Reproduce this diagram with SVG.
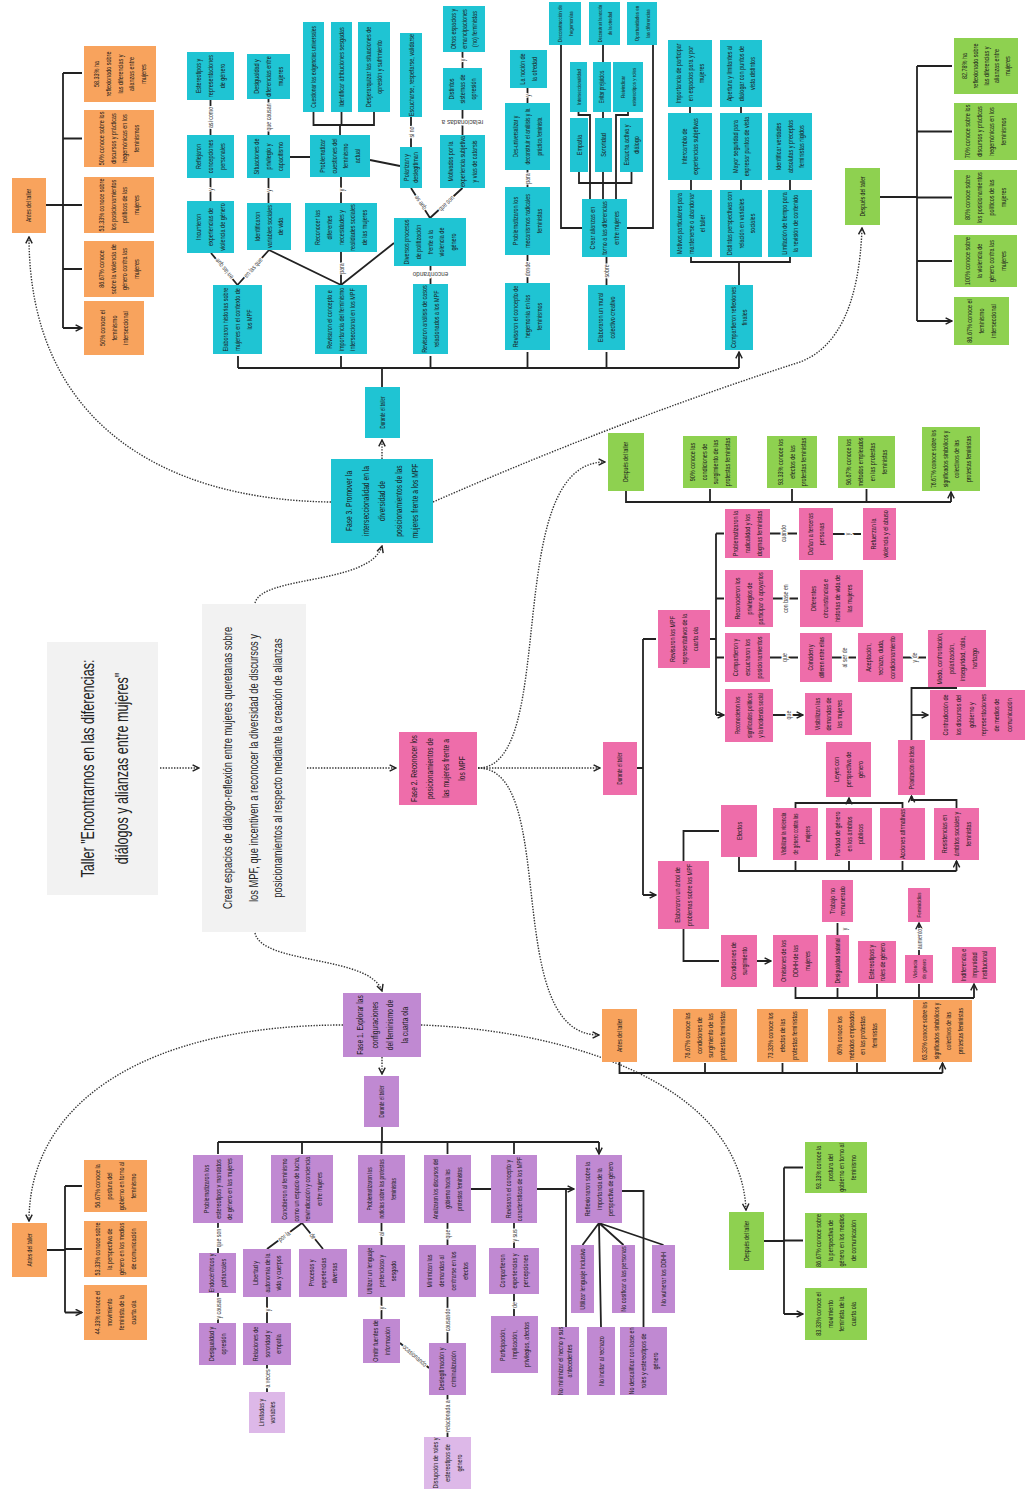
<svg xmlns="http://www.w3.org/2000/svg" width="1031" height="1491" viewBox="0 0 1031 1491">
<defs>
<style>
.cy{fill:#1FC4D3}.or{fill:#F8A35D}.gr{fill:#8ED150}.pk{fill:#EE6DAA}.pu{fill:#C089D2}.lp{fill:#DDB8E8}.gy{fill:#F2F2F2}
text{font-family:"Liberation Sans",Arial,sans-serif}
.t{font-size:7.6px;fill:#1a1a1a;text-anchor:middle}
.f{font-size:9.3px;fill:#1a1a1a;text-anchor:middle}
.l{font-size:7px;fill:#444;text-anchor:middle;stroke:#fff;stroke-width:3px;paint-order:stroke;stroke-linejoin:round}
.c{fill:none;stroke:#222;stroke-width:1.8}
.a{fill:none;stroke:#222;stroke-width:1.8;marker-end:url(#ah)}
.d{fill:none;stroke:#333;stroke-width:1.4;stroke-dasharray:1.4 1.4;marker-end:url(#ah)}
</style>
<marker id="ah" viewBox="0 0 10 10" refX="9" refY="5" markerWidth="8" markerHeight="8" markerUnits="userSpaceOnUse" orient="auto"><path d="M1,1 L9,5 L1,9" fill="none" stroke="#222" stroke-width="1.8"/></marker>
</defs>
<rect x="0" y="0" width="1031" height="1491" fill="#fff"/>

<g id="connectors">
<path class="d" d="M160,768H199"/>
<path class="d" d="M307,768H396"/>
<path class="d" d="M255,603C262,575 370,585 382,546"/>
<path class="d" d="M255,933C262,965 370,955 382,991"/>
<path class="d" d="M382,459V440"/>
<path class="d" d="M331,502C160,500 29,420 29,237"/>
<path class="d" d="M433,502Q620,420 800,362Q858,340 862,228"/>
<path class="d" d="M478,768C560,768 500,462 605,462"/>
<path class="d" d="M478,768H600"/>
<path class="d" d="M478,768C560,768 500,1035 599,1035"/>
<path class="d" d="M382,1057V1074"/>
<path class="d" d="M343,1025C150,1025 29,1100 29,1221"/>
<path class="d" d="M421,1025C560,1030 740,1080 746,1210"/>

<path class="c" d="M46,205H63M63,73V328"/>
<path class="a" d="M63,73H82M63,138.5H82M63,205H82M63,269H82M63,328H82"/>
<path class="c" d="M880,197H917M917,66V321"/>
<path class="a" d="M917,66H952M917,131.5H952M917,197.5H952M917,261H952M917,321H952"/>

<path class="c" d="M382,387V368M238,368H739"/>
<path class="a" d="M238,368V356M341,368V356M430.5,368V356M527.5,368V352M606.5,368V352M739,368V352"/>
<path class="c" d="M237.5,285L211,253M237.5,285L269,250M269,250L341,285M394,243L341,285M341,252V285"/>
<path class="c" d="M210.5,201V178M210.5,135V100M268.5,203V178M268.5,135V99M341,203V177"/>
<path class="c" d="M340,135V125M313.5,112V125H374V112M341.5,112V125"/>
<path class="c" d="M290,157H310M370,160L400,166"/>
<path class="c" d="M430.5,284V266M430,218L411,188M430,218L462.5,188M411,147V117M462.5,135V110M462.5,68V52"/>
<path class="c" d="M527.5,283V255M527.5,187V170M527.5,103V88M606.5,285V257"/>
<path class="c" d="M582,228H561V45M627,228H653V45M603,45V62M603,112V118M603,172V199"/>
<path class="c" d="M578.5,112V115H590V199M628,112V115H616V199M579,172V183H631.5V172"/>
<path class="c" d="M739,285V262M691,257V262H790V257M691,190V180M690,113V107M741,190V180M741,113V107M790,190V180"/>
<text class="l" transform="translate(224,269) rotate(-130) scale(.75,1)" y="2.5">en las que</text>
<text class="l" transform="translate(253,267.5) rotate(-48) scale(.75,1)" y="2.5">en las que</text>
<text class="l" transform="translate(210.5,189.5) rotate(-90) scale(.75,1)" y="2.5">y</text>
<text class="l" transform="translate(210.5,117.5) rotate(-90) scale(.75,1)" y="2.5">así como</text>
<text class="l" transform="translate(268.5,190.5) rotate(-90) scale(.75,1)" y="2.5">y</text>
<text class="l" transform="translate(268.5,117) rotate(-90) scale(.75,1)" y="2.5">que causan</text>
<text class="l" transform="translate(341,268.5) rotate(-90) scale(.75,1)" y="2.5">para</text>
<text class="l" transform="translate(341,190) rotate(-90) scale(.75,1)" y="2.5">y</text>
<text class="l" transform="translate(411,132) rotate(-90) scale(.75,1)" y="2.5">si no</text>
<text class="l" transform="translate(420,203) rotate(-125) scale(.75,1)" y="2.5">que se</text>
<text class="l" transform="translate(446,203) rotate(-43) scale(.75,1)" y="2.5">que son</text>
<text class="l" style="font-size:8px" transform="translate(430.5,275) rotate(180) scale(.8,1)" y="2.8">encontrando</text>
<text class="l" style="font-size:8px" transform="translate(462.5,122.5) rotate(180) scale(.8,1)" y="2.8">relacionadas a</text>
<text class="l" transform="translate(462.5,60) rotate(-90) scale(.75,1)" y="2.5">y</text>
<text class="l" transform="translate(527.5,269) rotate(-90) scale(.75,1)" y="2.5">donde</text>
<text class="l" transform="translate(527.5,178.5) rotate(-90) scale(.75,1)" y="2.5">para</text>
<text class="l" transform="translate(527.5,95.5) rotate(-90) scale(.75,1)" y="2.5">y</text>
<text class="l" transform="translate(606.5,271) rotate(-90) scale(.75,1)" y="2.5">sobre</text>

<path class="c" d="M626,491V502H951"/>
<path class="a" d="M710,502V489M792,502V489M866.5,502V489M951,502V492"/>
<path class="c" d="M637,768H643M643,639V895"/>
<path class="a" d="M643,639H656M643,895H656"/>
<path class="c" d="M710,639H716M716,533.5V715"/>
<path class="a" d="M716,533.5H724M716,598.5H724M716,657.5H724M716,715H724"/>
<path class="a" d="M770,533.5H797M833,534H861M773,598.5H798M770,657.5H798M832,657.5H856M903,657.5H926M773,715H803"/>
<text class="l" transform="translate(783.5,533.5) rotate(-90) scale(.75,1)" y="2.5">cuando</text>
<text class="l" transform="translate(847,534) rotate(-90) scale(.75,1)" y="2.5">y</text>
<text class="l" transform="translate(785.5,598.5) rotate(-90) scale(.75,1)" y="2.5">con base en</text>
<text class="l" transform="translate(784,657.5) rotate(-90) scale(.75,1)" y="2.5">que</text>
<text class="l" transform="translate(844,657.5) rotate(-90) scale(.75,1)" y="2.5">al ser de</text>
<text class="l" transform="translate(914.5,657.5) rotate(-90) scale(.75,1)" y="2.5">y de</text>
<text class="l" transform="translate(788,715) rotate(-90) scale(.75,1)" y="2.5">que</text>
<path class="c" d="M911.5,740V688H957"/>
<path class="a" d="M911.5,715H928"/>
<path class="c" d="M795.5,808V803H902.5V808"/>
<path class="a" d="M849,803V798"/>
<path class="a" d="M956.5,808V800H911.5V796"/>
<path class="c" d="M739,857V871H956.5"/>
<path class="a" d="M795.5,871V861M849,871V861M902.5,871V861M956.5,871V861"/>
<path class="a" d="M683.5,861V831H719M683.5,929V961H719M757,961H771"/>
<path class="c" d="M795.5,987V998H974"/>
<path class="a" d="M837.5,998V988M877,998V984M919,998V984M974,998V984"/>
<path class="a" d="M837.5,935V923M919,955V923"/>
<text class="l" transform="translate(844,929) rotate(-90) scale(.75,1)" y="2.5">y</text>
<text class="l" transform="translate(919,939) rotate(-90) scale(.75,1)" y="2.5">aumento</text>
<path class="c" d="M619.5,1062V1073H942.5"/>
<path class="a" d="M705,1073V1063M782.5,1073V1063M857,1073V1063M942.5,1073V1063"/>

<path class="c" d="M382,1127V1142M218,1142H599"/>
<path class="a" d="M218,1142V1154M302,1142V1154M381.5,1142V1154M447.5,1142V1154M514,1142V1154M599,1142V1154"/>
<path class="c" d="M218,1223V1253M218,1293V1323M267,1297V1323M267,1365V1392M381.5,1223V1245M381.5,1297V1319M447.5,1223V1245M447.5,1297V1343M447.5,1395V1437M514,1223V1248M514,1294V1316"/>
<path class="c" d="M302,1223L267,1249M302,1223L323,1249M400,1343L429,1368"/>
<path class="c" d="M471,1189H491M566,1189V1327M622,1191H643.5V1327"/>
<path class="a" d="M537,1189H574"/>
<path class="c" d="M599,1223L582.5,1245M599,1223L623.5,1245M599,1223L663.5,1245M599,1223L601,1327"/>
<text class="l" transform="translate(218,1238) rotate(-90) scale(.75,1)" y="2.5">que son</text>
<text class="l" transform="translate(218,1308) rotate(-90) scale(.75,1)" y="2.5">y causan</text>
<text class="l" transform="translate(284,1236) rotate(-36) scale(.75,1)" y="2.5">por la</text>
<text class="l" transform="translate(313,1236) rotate(50) scale(.75,1)" y="2.5">de</text>
<text class="l" transform="translate(267,1310) rotate(-90) scale(.75,1)" y="2.5">y</text>
<text class="l" transform="translate(267,1378.5) rotate(-90) scale(.75,1)" y="2.5">a veces</text>
<text class="l" transform="translate(381.5,1234) rotate(-90) scale(.75,1)" y="2.5">al</text>
<text class="l" transform="translate(381.5,1308) rotate(-90) scale(.75,1)" y="2.5">y</text>
<text class="l" transform="translate(447.5,1234) rotate(-90) scale(.75,1)" y="2.5">que</text>
<text class="l" transform="translate(447.5,1320) rotate(-90) scale(.75,1)" y="2.5">causando</text>
<text class="l" transform="translate(447.5,1416) rotate(-90) scale(.75,1)" y="2.5">relacionada a</text>
<text class="l" transform="translate(415,1355.5) rotate(41) scale(.75,1)" y="2.5">ocasionando</text>
<text class="l" transform="translate(514,1235.5) rotate(-90) scale(.75,1)" y="2.5">y sus</text>
<text class="l" transform="translate(514,1305) rotate(-90) scale(.75,1)" y="2.5">de</text>
<path class="c" d="M47,1250H65M65,1186V1312.5"/>
<path class="a" d="M65,1186H82M65,1249H82M65,1312.5H82"/>
<path class="c" d="M764,1241H784M784,1167.5V1314"/>
<path class="a" d="M784,1167.5H803M784,1240.5H803M784,1314H803"/>
</g>

<g id="title"><rect class="gy" x="47" y="642" width="111" height="253"/><text transform="translate(102.5,768.5) rotate(-90) scale(.72,1)" style="font-size:17.5px;fill:#222;text-anchor:middle"><tspan x="0" y="-8.4">Taller "Encontrarnos en las diferencias:</tspan><tspan x="0" y="25.6">diálogos y alianzas entre mujeres"</tspan></text></g>
<g id="objetivo"><rect class="gy" x="202" y="604" width="104" height="328"/><text transform="translate(254,768) rotate(-90) scale(.72,1)" style="font-size:13px;fill:#222;text-anchor:middle"><tspan x="0" y="-22.5">Crear espacios de diálogo-reflexión entre mujeres queretanas sobre</tspan><tspan x="0" y="3.5">los MPF, que incentiven a reconocer la diversidad de discursos y</tspan><tspan x="0" y="28.5">posicionamientos al respecto mediante la creación de alianzas</tspan></text></g>

<g id="fase3"><rect class="cy" x="331" y="459" width="102" height="84"/><text class="f" transform="translate(382,501) rotate(-90) scale(.72,1)"><tspan x="0" y="-29.8">Fase 3. Promover la</tspan><tspan x="0" y="-13.3">interseccionalidad en la</tspan><tspan x="0" y="3.2">diversidad de</tspan><tspan x="0" y="19.7">posicionamientos de las</tspan><tspan x="0" y="36.2">mujeres frente a los MPF</tspan></text></g>
<g id="f3-durante"><rect class="cy" x="365" y="387" width="35" height="51"/><text class="t" style="font-size:6.3px" transform="translate(382.5,412.5) rotate(-90) scale(.72,1)" y="2.1">Durante el taller</text></g>

<g id="a3-0"><rect class="or" x="12" y="178" width="34" height="55"/><text class="t" style="font-size:7px" transform="translate(29,205.5) rotate(-90) scale(.72,1)" y="2.3">Antes del taller</text></g>
<g id="a3-1"><rect class="or" x="84" y="46" width="72" height="56"/><text class="t" transform="translate(120,74) rotate(-90) scale(.72,1)"><tspan x="0" y="-21.5">58.33% ha</tspan><tspan x="0" y="-9.5">reflexionado sobre</tspan><tspan x="0" y="2.5">las diferencias y</tspan><tspan x="0" y="14.5">alianzas entre</tspan><tspan x="0" y="26.5">mujeres</tspan></text></g>
<g id="a3-2"><rect class="or" x="84" y="110" width="70" height="57"/><text class="t" transform="translate(119,138.5) rotate(-90) scale(.72,1)"><tspan x="0" y="-15.5">50% conoce sobre los</tspan><tspan x="0" y="-3.5">discursos y prácticas</tspan><tspan x="0" y="8.5">hegemónicas en los</tspan><tspan x="0" y="20.5">feminismos</tspan></text></g>
<g id="a3-3"><rect class="or" x="84" y="177" width="70" height="56"/><text class="t" transform="translate(119,205) rotate(-90) scale(.72,1)"><tspan x="0" y="-15.5">53.33% conoce sobre</tspan><tspan x="0" y="-3.5">los posicionamientos</tspan><tspan x="0" y="8.5">políticos de las</tspan><tspan x="0" y="20.5">mujeres</tspan></text></g>
<g id="a3-4"><rect class="or" x="84" y="241" width="70" height="56"/><text class="t" transform="translate(119,269) rotate(-90) scale(.72,1)"><tspan x="0" y="-15.5">86.67% conoce</tspan><tspan x="0" y="-3.5">sobre la violencia de</tspan><tspan x="0" y="8.5">género contra las</tspan><tspan x="0" y="20.5">mujeres</tspan></text></g>
<g id="a3-5"><rect class="or" x="84" y="301" width="60" height="54"/><text class="t" transform="translate(114,328) rotate(-90) scale(.72,1)"><tspan x="0" y="-9.5">50% conoce el</tspan><tspan x="0" y="2.5">feminismo</tspan><tspan x="0" y="14.5">interseccional</tspan></text></g>

<g id="d3-0"><rect class="gr" x="845" y="168" width="35" height="57"/><text class="t" style="font-size:7px" transform="translate(862.5,196.5) rotate(-90) scale(.72,1)" y="2.3">Después del taller</text></g>
<g id="d3-1"><rect class="gr" x="954" y="38" width="64" height="56"/><text class="t" transform="translate(986,66) rotate(-90) scale(.72,1)"><tspan x="0" y="-19.5">82.78% ha</tspan><tspan x="0" y="-8.5">reflexionado sobre</tspan><tspan x="0" y="2.5">las diferencias y</tspan><tspan x="0" y="13.5">alianzas entre</tspan><tspan x="0" y="24.5">mujeres</tspan></text></g>
<g id="d3-2"><rect class="gr" x="954" y="103" width="63" height="57"/><text class="t" transform="translate(985.5,131.5) rotate(-90) scale(.72,1)"><tspan x="0" y="-15.5">70% conoce sobre los</tspan><tspan x="0" y="-3.5">discursos y prácticas</tspan><tspan x="0" y="8.5">hegemónicas en los</tspan><tspan x="0" y="20.5">feminismos</tspan></text></g>
<g id="d3-3"><rect class="gr" x="954" y="170" width="63" height="55"/><text class="t" transform="translate(985.5,197.5) rotate(-90) scale(.72,1)"><tspan x="0" y="-15.5">80% conoce sobre</tspan><tspan x="0" y="-3.5">los posicionamientos</tspan><tspan x="0" y="8.5">políticos de las</tspan><tspan x="0" y="20.5">mujeres</tspan></text></g>
<g id="d3-4"><rect class="gr" x="954" y="235" width="63" height="52"/><text class="t" transform="translate(985.5,261) rotate(-90) scale(.72,1)"><tspan x="0" y="-15.5">100% conoce sobre</tspan><tspan x="0" y="-3.5">la violencia de</tspan><tspan x="0" y="8.5">género contra las</tspan><tspan x="0" y="20.5">mujeres</tspan></text></g>
<g id="d3-5"><rect class="gr" x="954" y="297" width="55" height="48"/><text class="t" transform="translate(981.5,321) rotate(-90) scale(.72,1)"><tspan x="0" y="-9.5">86.67% conoce el</tspan><tspan x="0" y="2.5">feminismo</tspan><tspan x="0" y="14.5">interseccional</tspan></text></g>

<g id="c1"><rect class="cy" x="213" y="285" width="49" height="69"/><text class="t" transform="translate(237.5,319.5) rotate(-90) scale(.72,1)"><tspan x="0" y="-9.5">Elaboraron historias sobre</tspan><tspan x="0" y="2.5">mujeres en el contexto de</tspan><tspan x="0" y="14.5">los MPF</tspan></text></g>
<g id="c2"><rect class="cy" x="187" y="201" width="47" height="52"/><text class="t" transform="translate(210.5,227) rotate(-90) scale(.72,1)"><tspan x="0" y="-9.5">Incurrieron</tspan><tspan x="0" y="2.5">experiencias de</tspan><tspan x="0" y="14.5">violencia de género</tspan></text></g>
<g id="c3"><rect class="cy" x="187" y="135" width="47" height="43"/><text class="t" transform="translate(210.5,156.5) rotate(-90) scale(.72,1)"><tspan x="0" y="-9.5">Reflejaron</tspan><tspan x="0" y="2.5">concepciones</tspan><tspan x="0" y="14.5">personales</tspan></text></g>
<g id="c4"><rect class="cy" x="187" y="52" width="47" height="48"/><text class="t" transform="translate(210.5,76) rotate(-90) scale(.72,1)"><tspan x="0" y="-9.5">Estereotipos y</tspan><tspan x="0" y="2.5">representaciones</tspan><tspan x="0" y="14.5">de género</tspan></text></g>
<g id="c5"><rect class="cy" x="247" y="203" width="44" height="47"/><text class="t" transform="translate(269,226.5) rotate(-90) scale(.72,1)"><tspan x="0" y="-9.5">Identificaron</tspan><tspan x="0" y="2.5">variables sociales</tspan><tspan x="0" y="14.5">de vida</tspan></text></g>
<g id="c6"><rect class="cy" x="247" y="135" width="43" height="43"/><text class="t" transform="translate(268.5,156.5) rotate(-90) scale(.72,1)"><tspan x="0" y="-9.5">Situaciones de</tspan><tspan x="0" y="2.5">privilegio y</tspan><tspan x="0" y="14.5">capacitismo</tspan></text></g>
<g id="c7"><rect class="cy" x="247" y="54" width="43" height="45"/><text class="t" transform="translate(268.5,76.5) rotate(-90) scale(.72,1)"><tspan x="0" y="-9.5">Desigualdad y</tspan><tspan x="0" y="2.5">diferencias entre</tspan><tspan x="0" y="14.5">mujeres</tspan></text></g>
<g id="c8"><rect class="cy" x="315" y="285" width="52" height="69"/><text class="t" transform="translate(341,319.5) rotate(-90) scale(.72,1)"><tspan x="0" y="-9.5">Revisaron el concepto e</tspan><tspan x="0" y="2.5">importancia del feminismo</tspan><tspan x="0" y="14.5">interseccional en los MPF</tspan></text></g>
<g id="c9"><rect class="cy" x="305" y="203" width="72" height="49"/><text class="t" transform="translate(341,227.5) rotate(-90) scale(.72,1)"><tspan x="0" y="-21.5">Reconocer las</tspan><tspan x="0" y="-9.5">diferentes</tspan><tspan x="0" y="2.5">necesidades y</tspan><tspan x="0" y="14.5">realidades sociales</tspan><tspan x="0" y="26.5">de las mujeres</tspan></text></g>
<g id="c10"><rect class="cy" x="310" y="135" width="60" height="42"/><text class="t" transform="translate(340,156) rotate(-90) scale(.72,1)"><tspan x="0" y="-15.5">Problematizar</tspan><tspan x="0" y="-3.5">cuestiones del</tspan><tspan x="0" y="8.5">feminismo</tspan><tspan x="0" y="20.5">actual</tspan></text></g>
<g id="c11"><rect class="cy" x="303" y="22" width="21" height="90"/><text class="t" style="font-size:6.8px" transform="translate(313.5,67) rotate(-90) scale(.72,1)" y="2.3">Cuestionar las exigencias universales</text></g>
<g id="c12"><rect class="cy" x="331" y="22" width="21" height="90"/><text class="t" transform="translate(341.5,67) rotate(-90) scale(.72,1)" y="2.5">Identificar atribuciones sesgadas</text></g>
<g id="c13"><rect class="cy" x="358" y="22" width="32" height="90"/><text class="t" transform="translate(374,67) rotate(-90) scale(.72,1)"><tspan x="0" y="-3.5">Desjerarquizar las situaciones de</tspan><tspan x="0" y="8.5">opresión y sufrimiento</tspan></text></g>
<g id="c14"><rect class="cy" x="413" y="284" width="35" height="70"/><text class="t" transform="translate(430.5,319) rotate(-90) scale(.72,1)"><tspan x="0" y="-3.5">Revisaron análisis de casos</tspan><tspan x="0" y="8.5">relacionados a los MPF</tspan></text></g>
<g id="c15"><rect class="cy" x="394" y="218" width="72" height="48"/><text class="t" transform="translate(430,242) rotate(-90) scale(.72,1)"><tspan x="0" y="-21.5">Diversos procesos</tspan><tspan x="0" y="-9.5">de politización</tspan><tspan x="0" y="2.5">frente a la</tspan><tspan x="0" y="14.5">violencia de</tspan><tspan x="0" y="26.5">género</tspan></text></g>
<g id="c16"><rect class="cy" x="400" y="147" width="22" height="41"/><text class="t" transform="translate(411,167.5) rotate(-90) scale(.72,1)"><tspan x="0" y="-2.5">Polarizan y</tspan><tspan x="0" y="7.5">deslegitiman</tspan></text></g>
<g id="c17"><rect class="cy" x="400" y="33" width="22" height="84"/><text class="t" transform="translate(411,75) rotate(-90) scale(.72,1)" y="2.5">Escucharse, respetarse, validarse</text></g>
<g id="c18"><rect class="cy" x="440" y="135" width="45" height="53"/><text class="t" transform="translate(462.5,161.5) rotate(-90) scale(.72,1)"><tspan x="0" y="-9.5">Motivados por la</tspan><tspan x="0" y="2.5">experiencia subjetiva</tspan><tspan x="0" y="14.5">y vías de catarsis</tspan></text></g>
<g id="c19"><rect class="cy" x="443" y="68" width="39" height="42"/><text class="t" transform="translate(462.5,89) rotate(-90) scale(.72,1)"><tspan x="0" y="-8.5">Distintos</tspan><tspan x="0" y="2.5">sistemas de</tspan><tspan x="0" y="13.5">opresión</tspan></text></g>
<g id="c20"><rect class="cy" x="443" y="6" width="42" height="46"/><text class="t" transform="translate(464,29) rotate(-90) scale(.72,1)"><tspan x="0" y="-8.5">Otros espacios y</tspan><tspan x="0" y="2.5">emancipaciones</tspan><tspan x="0" y="13.5">(no) feministas</tspan></text></g>
<g id="c21"><rect class="cy" x="505" y="283" width="45" height="67"/><text class="t" transform="translate(527.5,316.5) rotate(-90) scale(.72,1)"><tspan x="0" y="-9.5">Revisaron el concepto de</tspan><tspan x="0" y="2.5">hegemonía en los</tspan><tspan x="0" y="14.5">feminismos</tspan></text></g>
<g id="c22"><rect class="cy" x="505" y="187" width="45" height="68"/><text class="t" transform="translate(527.5,221) rotate(-90) scale(.72,1)"><tspan x="0" y="-9.5">Problematizaron los</tspan><tspan x="0" y="2.5">mecanismos radicales</tspan><tspan x="0" y="14.5">feministas</tspan></text></g>
<g id="c23"><rect class="cy" x="505" y="103" width="45" height="67"/><text class="t" style="font-size:6.8px" transform="translate(527.5,136.5) rotate(-90) scale(.72,1)"><tspan x="0" y="-9.5">Des-universalizar y</tspan><tspan x="0" y="2.5">deconstruir el análisis y la</tspan><tspan x="0" y="14.5">práctica feminista</tspan></text></g>
<g id="c24"><rect class="cy" x="510" y="50" width="37" height="38"/><text class="t" transform="translate(528.5,69) rotate(-90) scale(.72,1)"><tspan x="0" y="-3.5">La noción de</tspan><tspan x="0" y="8.5">la otredad</tspan></text></g>
<g id="c25"><rect class="cy" x="588" y="285" width="37" height="65"/><text class="t" transform="translate(606.5,317.5) rotate(-90) scale(.72,1)"><tspan x="0" y="-3.5">Elaboraron un mural</tspan><tspan x="0" y="8.5">colectivo creativo</tspan></text></g>
<g id="c26"><rect class="cy" x="582" y="199" width="45" height="58"/><text class="t" transform="translate(604.5,228) rotate(-90) scale(.72,1)"><tspan x="0" y="-9.5">Crear alianzas en</tspan><tspan x="0" y="2.5">torno a las diferencias</tspan><tspan x="0" y="14.5">entre mujeres</tspan></text></g>
<g id="c27"><rect class="cy" x="549" y="2" width="32" height="43"/><text class="t" style="font-size:6.2px" transform="translate(565,23.5) rotate(-90) scale(.72,1)"><tspan x="0" y="-3">Deconstrucción de</tspan><tspan x="0" y="8">hegemonías</tspan></text></g>
<g id="c28"><rect class="cy" x="589" y="2" width="31" height="43"/><text class="t" style="font-size:5.6px" transform="translate(604.5,23.5) rotate(-90) scale(.72,1)"><tspan x="0" y="-3">Deconstruir la noción</tspan><tspan x="0" y="8">de la otredad</tspan></text></g>
<g id="c29"><rect class="cy" x="627" y="2" width="30" height="43"/><text class="t" style="font-size:6.2px" transform="translate(642,23.5) rotate(-90) scale(.72,1)"><tspan x="0" y="-3">Oportunidades en</tspan><tspan x="0" y="8">las diferencias</tspan></text></g>
<g id="c30"><rect class="cy" x="570" y="62" width="17" height="50"/><text class="t" style="font-size:6.2px" transform="translate(578.5,87) rotate(-90) scale(.72,1)" y="2.1">Interseccionalidad</text></g>
<g id="c31"><rect class="cy" x="593" y="62" width="18" height="50"/><text class="t" style="font-size:6.4px" transform="translate(602,87) rotate(-90) scale(.72,1)" y="2.1">Evitar prejuicios</text></g>
<g id="c32"><rect class="cy" x="613" y="62" width="30" height="50"/><text class="t" style="font-size:6.2px" transform="translate(628,87) rotate(-90) scale(.72,1)"><tspan x="0" y="-3">Reivindicar</tspan><tspan x="0" y="8">estereotipos y roles</tspan></text></g>
<g id="c33"><rect class="cy" x="570" y="118" width="18" height="54"/><text class="t" transform="translate(579,145) rotate(-90) scale(.72,1)" y="2.5">Empatía</text></g>
<g id="c34"><rect class="cy" x="595" y="118" width="17" height="54"/><text class="t" transform="translate(603.5,145) rotate(-90) scale(.72,1)" y="2.5">Sororidad</text></g>
<g id="c35"><rect class="cy" x="620" y="118" width="23" height="54"/><text class="t" transform="translate(631.5,145) rotate(-90) scale(.72,1)"><tspan x="0" y="-2.5">Escucha activa y</tspan><tspan x="0" y="7.5">diálogo</tspan></text></g>
<g id="c36"><rect class="cy" x="725" y="285" width="28" height="65"/><text class="t" transform="translate(739,317.5) rotate(-90) scale(.72,1)"><tspan x="0" y="-3">Compartieron reflexiones</tspan><tspan x="0" y="8">finales</tspan></text></g>
<g id="c37"><rect class="cy" x="670" y="190" width="42" height="67"/><text class="t" transform="translate(691,223.5) rotate(-90) scale(.72,1)"><tspan x="0" y="-9.5">Motivos particulares para</tspan><tspan x="0" y="2.5">mantenerse o abandonar</tspan><tspan x="0" y="14.5">el taller</tspan></text></g>
<g id="c38"><rect class="cy" x="720" y="190" width="42" height="67"/><text class="t" transform="translate(741,223.5) rotate(-90) scale(.72,1)"><tspan x="0" y="-9.5">Distintas perspectivas con</tspan><tspan x="0" y="2.5">relación en variables</tspan><tspan x="0" y="14.5">sociales</tspan></text></g>
<g id="c39"><rect class="cy" x="768" y="190" width="44" height="67"/><text class="t" transform="translate(790,223.5) rotate(-90) scale(.72,1)"><tspan x="0" y="-3.5">Limitación de tiempo para</tspan><tspan x="0" y="8.5">la revisión de contenido</tspan></text></g>
<g id="c40"><rect class="cy" x="668" y="113" width="44" height="67"/><text class="t" transform="translate(690,146.5) rotate(-90) scale(.72,1)"><tspan x="0" y="-3.5">Intercambio de</tspan><tspan x="0" y="8.5">experiencias subjetivas</tspan></text></g>
<g id="c41"><rect class="cy" x="720" y="113" width="42" height="67"/><text class="t" transform="translate(741,146.5) rotate(-90) scale(.72,1)"><tspan x="0" y="-3.5">Mayor seguridad para</tspan><tspan x="0" y="8.5">expresar puntos de vista</tspan></text></g>
<g id="c42"><rect class="cy" x="768" y="113" width="44" height="67"/><text class="t" transform="translate(790,146.5) rotate(-90) scale(.72,1)"><tspan x="0" y="-9.5">Identificar verdades</tspan><tspan x="0" y="2.5">absolutas y preceptos</tspan><tspan x="0" y="14.5">feministas rígidos</tspan></text></g>
<g id="c43"><rect class="cy" x="668" y="40" width="44" height="67"/><text class="t" transform="translate(690,73.5) rotate(-90) scale(.72,1)"><tspan x="0" y="-9.5">Importancia de participar</tspan><tspan x="0" y="2.5">en espacios para y por</tspan><tspan x="0" y="14.5">mujeres</tspan></text></g>
<g id="c44"><rect class="cy" x="720" y="40" width="42" height="67"/><text class="t" transform="translate(741,73.5) rotate(-90) scale(.72,1)"><tspan x="0" y="-9.5">Apertura y limitantes al</tspan><tspan x="0" y="2.5">dialogar con puntos de</tspan><tspan x="0" y="14.5">vista distintos</tspan></text></g>

<g id="fase2"><rect class="pk" x="399" y="732" width="78" height="73"/><text class="f" transform="translate(438,768.5) rotate(-90) scale(.72,1)"><tspan x="0" y="-20.8">Fase 2. Reconocer los</tspan><tspan x="0" y="-4.8">posicionamientos de</tspan><tspan x="0" y="11.2">las mujeres frente a</tspan><tspan x="0" y="27.2">los MPF</tspan></text></g>
<g id="f2-durante"><rect class="pk" x="603" y="742" width="34" height="53"/><text class="t" style="font-size:6.3px" transform="translate(620,768.5) rotate(-90) scale(.72,1)" y="2.1">Durante el taller</text></g>
<g id="p1"><rect class="pk" x="658" y="610" width="52" height="58"/><text class="t" transform="translate(684,639) rotate(-90) scale(.72,1)"><tspan x="0" y="-9.5">Revisaron los MPF</tspan><tspan x="0" y="2.5">representativos de la</tspan><tspan x="0" y="14.5">cuarta ola</tspan></text></g>
<g id="p2"><rect class="pk" x="658" y="861" width="51" height="68"/><text class="t" transform="translate(683.5,895) rotate(-90) scale(.72,1)"><tspan x="0" y="-3.5">Elaboraron un árbol de</tspan><tspan x="0" y="8.5">problemas sobre los MPF</tspan></text></g>
<g id="pa"><rect class="pk" x="725" y="509" width="45" height="49"/><text class="t" transform="translate(747.5,533.5) rotate(-90) scale(.72,1)"><tspan x="0" y="-9.5">Problematizaron la</tspan><tspan x="0" y="2.5">radicalidad y los</tspan><tspan x="0" y="14.5">dogmas feministas</tspan></text></g>
<g id="pb"><rect class="pk" x="725" y="570" width="48" height="57"/><text class="t" transform="translate(749,598.5) rotate(-90) scale(.72,1)"><tspan x="0" y="-9.5">Reconocieron los</tspan><tspan x="0" y="2.5">privilegios de</tspan><tspan x="0" y="14.5">participar o apoyarlos</tspan></text></g>
<g id="pc"><rect class="pk" x="725" y="633" width="45" height="49"/><text class="t" transform="translate(747.5,657.5) rotate(-90) scale(.72,1)"><tspan x="0" y="-9.5">Compartieron y</tspan><tspan x="0" y="2.5">escucharon los</tspan><tspan x="0" y="14.5">posicionamientos</tspan></text></g>
<g id="pd"><rect class="pk" x="725" y="689" width="48" height="53"/><text class="t" style="font-size:6.8px" transform="translate(749,715.5) rotate(-90) scale(.72,1)"><tspan x="0" y="-9.5">Reconocieron los</tspan><tspan x="0" y="2.5">significados políticos</tspan><tspan x="0" y="14.5">y la incidencia social</tspan></text></g>
<g id="pa2"><rect class="pk" x="799" y="508" width="34" height="52"/><text class="t" transform="translate(816,534) rotate(-90) scale(.72,1)"><tspan x="0" y="-3.5">Dañan a terceras</tspan><tspan x="0" y="8.5">personas</tspan></text></g>
<g id="pa3"><rect class="pk" x="863" y="508" width="33" height="52"/><text class="t" transform="translate(879.5,534) rotate(-90) scale(.72,1)"><tspan x="0" y="-3.5">Refuerzan la</tspan><tspan x="0" y="8.5">violencia y el abuso</tspan></text></g>
<g id="pb2"><rect class="pk" x="800" y="570" width="63" height="57"/><text class="t" transform="translate(831.5,598.5) rotate(-90) scale(.72,1)"><tspan x="0" y="-15.5">Diferentes</tspan><tspan x="0" y="-3.5">circunstancias e</tspan><tspan x="0" y="8.5">historias de vida de</tspan><tspan x="0" y="20.5">las mujeres</tspan></text></g>
<g id="pc2"><rect class="pk" x="800" y="633" width="32" height="49"/><text class="t" style="font-size:7px" transform="translate(816,657.5) rotate(-90) scale(.72,1)"><tspan x="0" y="-3.5">Coinciden y</tspan><tspan x="0" y="8.5">difieren entre ellas</tspan></text></g>
<g id="pc3"><rect class="pk" x="858" y="633" width="45" height="49"/><text class="t" transform="translate(880.5,657.5) rotate(-90) scale(.72,1)"><tspan x="0" y="-9.5">Aceptación,</tspan><tspan x="0" y="2.5">rechazo, duda,</tspan><tspan x="0" y="14.5">condicionamiento</tspan></text></g>
<g id="pc4"><rect class="pk" x="928" y="630" width="58" height="57"/><text class="t" transform="translate(957,658.5) rotate(-90) scale(.72,1)"><tspan x="0" y="-15.5">Miedo, confrontación,</tspan><tspan x="0" y="-3.5">polarización,</tspan><tspan x="0" y="8.5">inseguridad, rabia,</tspan><tspan x="0" y="20.5">hartazgo</tspan></text></g>
<g id="pd2"><rect class="pk" x="805" y="693" width="47" height="42"/><text class="t" transform="translate(828.5,714) rotate(-90) scale(.72,1)"><tspan x="0" y="-8.5">Visibilizan las</tspan><tspan x="0" y="2.5">demandas de</tspan><tspan x="0" y="13.5">las mujeres</tspan></text></g>
<g id="pe"><rect class="pk" x="930" y="690" width="95" height="50"/><text class="t" transform="translate(977.5,715) rotate(-90) scale(.72,1)"><tspan x="0" y="-30">Contradicción de</tspan><tspan x="0" y="-17">los discursos del</tspan><tspan x="0" y="-4">gobierno y</tspan><tspan x="0" y="9">representaciones</tspan><tspan x="0" y="22">de medios de</tspan><tspan x="0" y="35">comunicación</tspan></text></g>
<g id="ppol"><rect class="pk" x="898" y="740" width="27" height="55"/><text class="t" style="font-size:6.3px" transform="translate(911.5,767.5) rotate(-90) scale(.72,1)" y="2.1">Polarización de ideas</text></g>
<g id="pleyes"><rect class="pk" x="826" y="742" width="45" height="55"/><text class="t" transform="translate(848.5,769.5) rotate(-90) scale(.72,1)"><tspan x="0" y="-9.5">Leyes con</tspan><tspan x="0" y="2.5">perspectiva de</tspan><tspan x="0" y="14.5">género</tspan></text></g>
<g id="pef"><rect class="pk" x="721" y="805" width="36" height="52"/><text class="t" transform="translate(739,831) rotate(-90) scale(.72,1)" y="2.5">Efectos</text></g>
<g id="pv1"><rect class="pk" x="773" y="808" width="45" height="52"/><text class="t" style="font-size:6.3px" transform="translate(795.5,834) rotate(-90) scale(.72,1)"><tspan x="0" y="-9.5">Visibilizar la violencia</tspan><tspan x="0" y="2.5">de género contra las</tspan><tspan x="0" y="14.5">mujeres</tspan></text></g>
<g id="pv2"><rect class="pk" x="826" y="808" width="46" height="52"/><text class="t" transform="translate(849,834) rotate(-90) scale(.72,1)"><tspan x="0" y="-9.5">Paridad de género</tspan><tspan x="0" y="2.5">en los ámbitos</tspan><tspan x="0" y="14.5">públicos</tspan></text></g>
<g id="pv3"><rect class="pk" x="880" y="808" width="45" height="52"/><text class="t" transform="translate(902.5,834) rotate(-90) scale(.72,1)" y="2.5">Acciones afirmativas</text></g>
<g id="pv4"><rect class="pk" x="934" y="808" width="45" height="52"/><text class="t" transform="translate(956.5,834) rotate(-90) scale(.72,1)"><tspan x="0" y="-9.5">Resistencias en</tspan><tspan x="0" y="2.5">ámbitos sociales y</tspan><tspan x="0" y="14.5">feministas</tspan></text></g>
<g id="pcs"><rect class="pk" x="721" y="935" width="36" height="52"/><text class="t" transform="translate(739,961) rotate(-90) scale(.72,1)"><tspan x="0" y="-3.5">Condiciones de</tspan><tspan x="0" y="8.5">surgimiento</tspan></text></g>
<g id="pom"><rect class="pk" x="773" y="935" width="45" height="52"/><text class="t" transform="translate(795.5,961) rotate(-90) scale(.72,1)"><tspan x="0" y="-9.5">Omisiones de los</tspan><tspan x="0" y="2.5">DDHH de las</tspan><tspan x="0" y="14.5">mujeres</tspan></text></g>
<g id="pds"><rect class="pk" x="826" y="935" width="23" height="52"/><text class="t" style="font-size:7px" transform="translate(837.5,961) rotate(-90) scale(.72,1)" y="2.5">Desigualdad salarial</text></g>
<g id="ptr"><rect class="pk" x="822" y="880" width="31" height="42"/><text class="t" transform="translate(837.5,901) rotate(-90) scale(.72,1)"><tspan x="0" y="-2.5">Trabajo no</tspan><tspan x="0" y="7.5">remunerado</tspan></text></g>
<g id="pes"><rect class="pk" x="858" y="941" width="38" height="42"/><text class="t" transform="translate(877,962) rotate(-90) scale(.72,1)"><tspan x="0" y="-3.5">Estereotipos y</tspan><tspan x="0" y="8.5">roles de género</tspan></text></g>
<g id="pvg"><rect class="pk" x="905" y="955" width="28" height="28"/><text class="t" style="font-size:6.2px" transform="translate(919,969) rotate(-90) scale(.72,1)"><tspan x="0" y="-2.5">Violencia</tspan><tspan x="0" y="7.5">de género</tspan></text></g>
<g id="pfe"><rect class="pk" x="908" y="888" width="22" height="34"/><text class="t" style="font-size:6.2px" transform="translate(919,905) rotate(-90) scale(.72,1)" y="2.1">Feminicidios</text></g>
<g id="pin"><rect class="pk" x="952" y="947" width="44" height="36"/><text class="t" transform="translate(974,965) rotate(-90) scale(.72,1)"><tspan x="0" y="-8.5">Indiferencia e</tspan><tspan x="0" y="2.5">impunidad</tspan><tspan x="0" y="13.5">institucional</tspan></text></g>

<g id="o2-0"><rect class="or" x="602" y="1009" width="35" height="53"/><text class="t" style="font-size:7px" transform="translate(619.5,1035.5) rotate(-90) scale(.72,1)" y="2.3">Antes del taller</text></g>
<g id="o2-1"><rect class="or" x="673" y="1009" width="64" height="53"/><text class="t" transform="translate(705,1035.5) rotate(-90) scale(.72,1)"><tspan x="0" y="-15.5">76.67% conoce las</tspan><tspan x="0" y="-3.5">condiciones de</tspan><tspan x="0" y="8.5">surgimiento de las</tspan><tspan x="0" y="20.5">protestas feministas</tspan></text></g>
<g id="o2-2"><rect class="or" x="757" y="1009" width="51" height="53"/><text class="t" transform="translate(782.5,1035.5) rotate(-90) scale(.72,1)"><tspan x="0" y="-9.5">73.33% conoce los</tspan><tspan x="0" y="2.5">efectos de las</tspan><tspan x="0" y="14.5">protestas feministas</tspan></text></g>
<g id="o2-3"><rect class="or" x="828" y="1009" width="58" height="53"/><text class="t" transform="translate(857,1035.5) rotate(-90) scale(.72,1)"><tspan x="0" y="-15.5">60% conoce los</tspan><tspan x="0" y="-3.5">métodos empleados</tspan><tspan x="0" y="8.5">en las protestas</tspan><tspan x="0" y="20.5">feministas</tspan></text></g>
<g id="o2-4"><rect class="or" x="913" y="1000" width="59" height="62"/><text class="t" style="font-size:7.2px" transform="translate(942.5,1031) rotate(-90) scale(.72,1)"><tspan x="0" y="-15.5">63.33% conoce sobre los</tspan><tspan x="0" y="-3.5">significados simbólicos y</tspan><tspan x="0" y="8.5">colectivos de las</tspan><tspan x="0" y="20.5">protestas feministas</tspan></text></g>

<g id="g2-0"><rect class="gr" x="608" y="433" width="36" height="58"/><text class="t" style="font-size:7px" transform="translate(626,462) rotate(-90) scale(.72,1)" y="2.3">Después del taller</text></g>
<g id="g2-1"><rect class="gr" x="683" y="436" width="54" height="52"/><text class="t" transform="translate(710,462) rotate(-90) scale(.72,1)"><tspan x="0" y="-15.5">90% conoce las</tspan><tspan x="0" y="-3.5">condiciones de</tspan><tspan x="0" y="8.5">surgimiento de las</tspan><tspan x="0" y="20.5">protestas feministas</tspan></text></g>
<g id="g2-2"><rect class="gr" x="767" y="436" width="50" height="52"/><text class="t" transform="translate(792,462) rotate(-90) scale(.72,1)"><tspan x="0" y="-9.5">93.33% conoce los</tspan><tspan x="0" y="2.5">efectos de las</tspan><tspan x="0" y="14.5">protestas feministas</tspan></text></g>
<g id="g2-3"><rect class="gr" x="838" y="436" width="57" height="52"/><text class="t" transform="translate(866.5,462) rotate(-90) scale(.72,1)"><tspan x="0" y="-15.5">96.67% conoce los</tspan><tspan x="0" y="-3.5">métodos empleados</tspan><tspan x="0" y="8.5">en las protestas</tspan><tspan x="0" y="20.5">feministas</tspan></text></g>
<g id="g2-4"><rect class="gr" x="922" y="427" width="58" height="64"/><text class="t" style="font-size:7.2px" transform="translate(951,459) rotate(-90) scale(.72,1)"><tspan x="0" y="-15.5">76.67% conoce sobre los</tspan><tspan x="0" y="-3.5">significados simbólicos y</tspan><tspan x="0" y="8.5">colectivos de las</tspan><tspan x="0" y="20.5">protestas feministas</tspan></text></g>

<g id="fase1"><rect class="pu" x="343" y="993" width="78" height="64"/><text class="f" transform="translate(382,1025) rotate(-90) scale(.72,1)"><tspan x="0" y="-19.3">Fase 1. Explorar las</tspan><tspan x="0" y="-4.3">configuraciones</tspan><tspan x="0" y="10.7">del feminismo de</tspan><tspan x="0" y="25.7">la cuarta ola</tspan></text></g>
<g id="f1-durante"><rect class="pu" x="364" y="1076" width="35" height="51"/><text class="t" style="font-size:6.3px" transform="translate(381.5,1101.5) rotate(-90) scale(.72,1)" y="2.1">Durante el taller</text></g>
<g id="u1"><rect class="pu" x="193" y="1155" width="50" height="68"/><text class="t" transform="translate(218,1189) rotate(-90) scale(.72,1)"><tspan x="0" y="-9.5">Problematizaron los</tspan><tspan x="0" y="2.5">estereotipos y mandatos</tspan><tspan x="0" y="14.5">de género en las mujeres</tspan></text></g>
<g id="u2"><rect class="pu" x="271" y="1155" width="62" height="68"/><text class="t" transform="translate(302,1189) rotate(-90) scale(.72,1)"><tspan x="0" y="-15.5">Concibieron al feminismo</tspan><tspan x="0" y="-3.5">como un espacio de lucha,</tspan><tspan x="0" y="8.5">reivindicación y conciencia</tspan><tspan x="0" y="20.5">entre mujeres</tspan></text></g>
<g id="u3"><rect class="pu" x="358" y="1155" width="47" height="68"/><text class="t" style="font-size:6.8px" transform="translate(381.5,1189) rotate(-90) scale(.72,1)"><tspan x="0" y="-9.5">Problematizaron las</tspan><tspan x="0" y="2.5">noticias sobre las protestas</tspan><tspan x="0" y="14.5">feministas</tspan></text></g>
<g id="u4"><rect class="pu" x="424" y="1155" width="47" height="68"/><text class="t" style="font-size:6.8px" transform="translate(447.5,1189) rotate(-90) scale(.72,1)"><tspan x="0" y="-9.5">Analizaron los discursos del</tspan><tspan x="0" y="2.5">gobierno hacia las</tspan><tspan x="0" y="14.5">protestas feministas</tspan></text></g>
<g id="u5"><rect class="pu" x="491" y="1155" width="46" height="68"/><text class="t" transform="translate(514,1189) rotate(-90) scale(.72,1)"><tspan x="0" y="-3.5">Revisaron el concepto y</tspan><tspan x="0" y="8.5">características de los MPF</tspan></text></g>
<g id="u6"><rect class="pu" x="576" y="1155" width="46" height="68"/><text class="t" transform="translate(599,1189) rotate(-90) scale(.72,1)"><tspan x="0" y="-9.5">Reflexionaron sobre la</tspan><tspan x="0" y="2.5">importancia de la</tspan><tspan x="0" y="14.5">perspectiva de género</tspan></text></g>
<g id="u7"><rect class="pu" x="199" y="1253" width="37" height="40"/><text class="t" transform="translate(217.5,1273) rotate(-90) scale(.72,1)"><tspan x="0" y="-3.5">Endocéntricos y</tspan><tspan x="0" y="8.5">patriarcales</tspan></text></g>
<g id="u8"><rect class="pu" x="199" y="1323" width="37" height="42"/><text class="t" transform="translate(217.5,1344) rotate(-90) scale(.72,1)"><tspan x="0" y="-3.5">Desigualdad y</tspan><tspan x="0" y="8.5">opresión</tspan></text></g>
<g id="u9"><rect class="pu" x="243" y="1249" width="48" height="48"/><text class="t" transform="translate(267,1273) rotate(-90) scale(.72,1)"><tspan x="0" y="-9.5">Libertad y</tspan><tspan x="0" y="2.5">autonomía de la</tspan><tspan x="0" y="14.5">vida y cuerpos</tspan></text></g>
<g id="u10"><rect class="pu" x="299" y="1249" width="48" height="48"/><text class="t" transform="translate(323,1273) rotate(-90) scale(.72,1)"><tspan x="0" y="-9.5">Procesos y</tspan><tspan x="0" y="2.5">experiencias</tspan><tspan x="0" y="14.5">diversas</tspan></text></g>
<g id="u11"><rect class="pu" x="243" y="1323" width="48" height="42"/><text class="t" transform="translate(267,1344) rotate(-90) scale(.72,1)"><tspan x="0" y="-9.5">Relaciones de</tspan><tspan x="0" y="2.5">sororidad y</tspan><tspan x="0" y="14.5">empatía</tspan></text></g>
<g id="u12"><rect class="lp" x="249" y="1392" width="36" height="41"/><text class="t" transform="translate(267,1412.5) rotate(-90) scale(.72,1)"><tspan x="0" y="-3.5">Limitadas y</tspan><tspan x="0" y="8.5">variables</tspan></text></g>
<g id="u13"><rect class="pu" x="358" y="1245" width="47" height="52"/><text class="t" transform="translate(381.5,1271) rotate(-90) scale(.72,1)"><tspan x="0" y="-9.5">Utilizar un lenguaje</tspan><tspan x="0" y="2.5">pretencioso y</tspan><tspan x="0" y="14.5">sesgado</tspan></text></g>
<g id="u14"><rect class="pu" x="363" y="1319" width="37" height="44"/><text class="t" transform="translate(381.5,1341) rotate(-90) scale(.72,1)"><tspan x="0" y="-3.5">Omitir fuentes de</tspan><tspan x="0" y="8.5">información</tspan></text></g>
<g id="u15"><rect class="pu" x="419" y="1245" width="57" height="52"/><text class="t" transform="translate(447.5,1271) rotate(-90) scale(.72,1)"><tspan x="0" y="-15.5">Minimizan las</tspan><tspan x="0" y="-3.5">demandas al</tspan><tspan x="0" y="8.5">centrarse en los</tspan><tspan x="0" y="20.5">efectos</tspan></text></g>
<g id="u16"><rect class="pu" x="429" y="1343" width="37" height="52"/><text class="t" transform="translate(447.5,1369) rotate(-90) scale(.72,1)"><tspan x="0" y="-3.5">Deslegitimación y</tspan><tspan x="0" y="8.5">criminalización</tspan></text></g>
<g id="u17"><rect class="lp" x="424" y="1437" width="47" height="52"/><text class="t" transform="translate(447.5,1463) rotate(-90) scale(.72,1)"><tspan x="0" y="-9.5">Disrupción de roles y</tspan><tspan x="0" y="2.5">estereotipos de</tspan><tspan x="0" y="14.5">género</tspan></text></g>
<g id="u18"><rect class="pu" x="489" y="1248" width="50" height="46"/><text class="t" transform="translate(514,1271) rotate(-90) scale(.72,1)"><tspan x="0" y="-9.5">Compartieron</tspan><tspan x="0" y="2.5">experiencias y</tspan><tspan x="0" y="14.5">percepciones</tspan></text></g>
<g id="u19"><rect class="pu" x="491" y="1316" width="47" height="57"/><text class="t" transform="translate(514.5,1344.5) rotate(-90) scale(.72,1)"><tspan x="0" y="-9.5">Participación,</tspan><tspan x="0" y="2.5">implicación,</tspan><tspan x="0" y="14.5">privilegios, afectos</tspan></text></g>
<g id="u20"><rect class="pu" x="571" y="1245" width="23" height="68"/><text class="t" transform="translate(582.5,1279) rotate(-90) scale(.72,1)" y="2.5">Utilizar lenguaje inclusivo</text></g>
<g id="u21"><rect class="pu" x="612" y="1245" width="23" height="68"/><text class="t" transform="translate(623.5,1279) rotate(-90) scale(.72,1)" y="2.5">No cosificar a las personas</text></g>
<g id="u22"><rect class="pu" x="652" y="1245" width="23" height="68"/><text class="t" transform="translate(663.5,1279) rotate(-90) scale(.72,1)" y="2.5">No vulnerar los DDHH</text></g>
<g id="u23"><rect class="pu" x="551" y="1327" width="28" height="68"/><text class="t" transform="translate(565,1361) rotate(-90) scale(.72,1)"><tspan x="0" y="-2.5">No minimizar el hecho y sus</tspan><tspan x="0" y="7.5">antecedentes</tspan></text></g>
<g id="u24"><rect class="pu" x="587" y="1327" width="28" height="68"/><text class="t" transform="translate(601,1361) rotate(-90) scale(.72,1)" y="2.5">No incitar al rechazo</text></g>
<g id="u25"><rect class="pu" x="620" y="1327" width="47" height="68"/><text class="t" transform="translate(643.5,1361) rotate(-90) scale(.72,1)"><tspan x="0" y="-9.5">No descalificar con base en</tspan><tspan x="0" y="2.5">roles y estereotipos de</tspan><tspan x="0" y="14.5">género</tspan></text></g>

<g id="o1-0"><rect class="or" x="12" y="1223" width="35" height="54"/><text class="t" style="font-size:7px" transform="translate(29.5,1250) rotate(-90) scale(.72,1)" y="2.3">Antes del taller</text></g>
<g id="o1-1"><rect class="or" x="84" y="1160" width="63" height="52"/><text class="t" transform="translate(115.5,1186) rotate(-90) scale(.72,1)"><tspan x="0" y="-15.5">56.67% conoce la</tspan><tspan x="0" y="-3.5">postura del</tspan><tspan x="0" y="8.5">gobierno en torno al</tspan><tspan x="0" y="20.5">feminismo</tspan></text></g>
<g id="o1-2"><rect class="or" x="84" y="1221" width="63" height="56"/><text class="t" transform="translate(115.5,1249) rotate(-90) scale(.72,1)"><tspan x="0" y="-15.5">53.33% conoce sobre</tspan><tspan x="0" y="-3.5">la perspectiva de</tspan><tspan x="0" y="8.5">género en los medios</tspan><tspan x="0" y="20.5">de comunicación</tspan></text></g>
<g id="o1-3"><rect class="or" x="84" y="1285" width="63" height="55"/><text class="t" transform="translate(115.5,1312.5) rotate(-90) scale(.72,1)"><tspan x="0" y="-15.5">44.33% conoce el</tspan><tspan x="0" y="-3.5">movimiento</tspan><tspan x="0" y="8.5">feminista de la</tspan><tspan x="0" y="20.5">cuarta ola</tspan></text></g>

<g id="g1-0"><rect class="gr" x="729" y="1212" width="35" height="58"/><text class="t" style="font-size:7px" transform="translate(746.5,1241) rotate(-90) scale(.72,1)" y="2.3">Después del taller</text></g>
<g id="g1-1"><rect class="gr" x="805" y="1142" width="62" height="51"/><text class="t" transform="translate(836,1167.5) rotate(-90) scale(.72,1)"><tspan x="0" y="-15.5">93.33% conoce la</tspan><tspan x="0" y="-3.5">postura del</tspan><tspan x="0" y="8.5">gobierno en torno al</tspan><tspan x="0" y="20.5">feminismo</tspan></text></g>
<g id="g1-2"><rect class="gr" x="805" y="1213" width="62" height="55"/><text class="t" transform="translate(836,1240.5) rotate(-90) scale(.72,1)"><tspan x="0" y="-15.5">86.67% conoce sobre</tspan><tspan x="0" y="-3.5">la perspectiva de</tspan><tspan x="0" y="8.5">género en los medios</tspan><tspan x="0" y="20.5">de comunicación</tspan></text></g>
<g id="g1-3"><rect class="gr" x="805" y="1288" width="62" height="52"/><text class="t" transform="translate(836,1314) rotate(-90) scale(.72,1)"><tspan x="0" y="-15.5">83.33% conoce el</tspan><tspan x="0" y="-3.5">movimiento</tspan><tspan x="0" y="8.5">feminista de la</tspan><tspan x="0" y="20.5">cuarta ola</tspan></text></g>
</svg>
